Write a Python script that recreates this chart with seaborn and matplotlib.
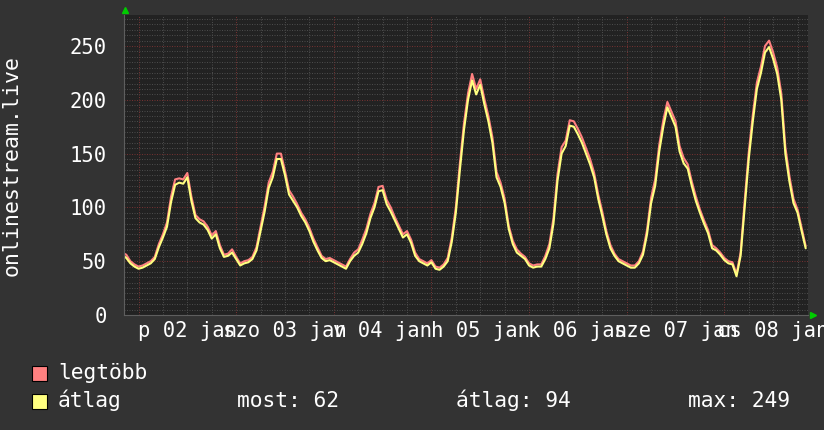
import matplotlib
matplotlib.use('Agg')
import matplotlib.pyplot as plt
import matplotlib.dates as mdates
from matplotlib.ticker import MultipleLocator, NullFormatter
from matplotlib.patches import Rectangle
import numpy as np
import pandas as pd
import seaborn as sns

# ---- data (hourly, starting 2015-01-01 20:00) ----
start_time = '2015-01-01 20:00'
avg_vals = [56, 53, 48, 45,
            43, 44, 46, 48, 52, 63, 72, 82, 105, 121, 123, 122,
            128, 106, 90, 86, 84, 79, 71, 75, 62, 54, 55, 58,
            52, 46, 48, 49, 52, 60, 78, 96, 118, 128, 145, 145,
            130, 112, 106, 100, 92, 86, 78, 68, 60, 53, 50, 51,
            49, 47, 45, 43, 50, 55, 58, 66, 76, 90, 100, 115,
            116, 103, 96, 88, 80, 72, 75, 67, 55, 50, 48, 46,
            49, 43, 42, 45, 50, 68, 95, 135, 172, 200, 218, 205,
            214, 196, 180, 160, 128, 119, 104, 80, 66, 58, 55, 52,
            46, 44, 45, 45, 52, 62, 85, 125, 150, 157, 176, 175,
            168, 160, 150, 140, 128, 108, 92, 75, 62, 55, 50, 48,
            46, 44, 44, 48, 56, 75, 104, 120, 152, 175, 193, 184,
            175, 152, 141, 136, 120, 106, 95, 85, 76, 62, 60, 56,
            51, 48, 47, 36, 55, 100, 145, 180, 210, 225, 244, 249,
            238, 224, 200, 150, 124, 104, 95, 78, 62]
max_vals = [58, 56, 50, 47,
            45, 46, 48, 50, 54, 66, 75, 86, 110, 126, 127, 126,
            132, 110, 93, 89, 87, 82, 74, 78, 65, 56, 57, 61,
            54, 48, 50, 51, 54, 63, 82, 101, 123, 133, 150, 150,
            134, 116, 110, 103, 95, 89, 81, 71, 63, 55, 52, 53,
            51, 49, 47, 45, 52, 58, 61, 70, 80, 94, 104, 119,
            120, 107, 100, 91, 83, 75, 78, 70, 58, 52, 50, 48,
            51, 45, 44, 47, 53, 72, 100, 141, 178, 206, 224, 210,
            219, 201, 185, 165, 133, 123, 108, 83, 69, 61, 57, 54,
            48, 46, 47, 47, 55, 66, 90, 131, 156, 162, 181, 180,
            173, 165, 155, 145, 132, 112, 96, 78, 65, 57, 52, 50,
            48, 46, 46, 50, 59, 79, 109, 126, 158, 181, 198, 189,
            180, 157, 146, 140, 124, 110, 98, 88, 79, 65, 62, 58,
            53, 50, 49, 38, 58, 106, 151, 186, 216, 231, 250, 255,
            244, 230, 206, 156, 129, 108, 98, 81, 64]
series_names = ['legtöbb', 'átlag']
series_colors = ['#FF8080', '#FFFF80']
day_labels = ['p 02 jan', 'szo 03 jan', 'v 04 jan', 'h 05 jan',
              'k 06 jan', 'sze 07 jan', 'cs 08 jan']
label_start = '2015-01-02 12:00'
y_label = 'onlinestream.live'
legend_stats = ['most: 62', 'átlag: 94', 'max: 249']

# ---- build frame ----
times = pd.date_range(start_time, periods=len(avg_vals), freq='h')
df = pd.concat([
    pd.DataFrame({'time': times, 'value': max_vals, 'series': series_names[0]}),
    pd.DataFrame({'time': times, 'value': avg_vals, 'series': series_names[1]}),
], ignore_index=True)
label_times = pd.date_range(label_start, periods=len(day_labels), freq='D')

sns.set_theme(style='dark')
plt.rcParams['font.family'] = ['DejaVu Sans Mono', 'DejaVu Sans']

W, H = 824, 430
fig = plt.figure(figsize=(W / 100, H / 100), dpi=100, facecolor='#333333')
ax = fig.add_axes([124 / W, 1 - 315 / H, 684 / W, 300 / H])
ax.set_facecolor('#222222')

sns.lineplot(data=df, x='time', y='value', hue='series', hue_order=series_names,
             palette=series_colors, estimator=None,
             linewidth=1.5, legend=False, ax=ax)

ax.set_xlim(pd.Timestamp('2015-01-01 20:26'), pd.Timestamp('2015-01-08 20:34'))
ax.set_ylim(0, 278.8)
ax.set_xlabel('')
ax.set_ylabel('')

ax.yaxis.set_major_locator(MultipleLocator(50))
ax.yaxis.set_minor_locator(MultipleLocator(5))
ax.xaxis.set_major_locator(mdates.DayLocator())
ax.xaxis.set_minor_locator(mdates.HourLocator(byhour=[6, 12, 18]))
ax.xaxis.set_major_formatter(NullFormatter())
ax.xaxis.set_minor_formatter(NullFormatter())

ax.grid(which='minor', color='#4a4a4a', linestyle=(0, (1, 1.5)), linewidth=0.72)
ax.grid(which='major', color='#723030', linestyle=(0, (1, 1.5)), linewidth=0.72)
ax.set_axisbelow(True)

ax.tick_params(axis='both', which='major', direction='out', length=2.5,
               width=0.72, color='#a04040', labelcolor='white',
               labelsize=14.8, pad=10)
ax.tick_params(axis='both', which='minor', direction='out', length=2,
               width=0.72, color='#5a5a5a')

for s in ['top', 'right']:
    ax.spines[s].set_visible(False)
for s in ['left', 'bottom']:
    ax.spines[s].set_color('#5e5e5e')
    ax.spines[s].set_linewidth(0.8)

# day labels centred at noon
for t, lab in zip(label_times, day_labels):
    ax.text(t, -0.0733, lab, transform=ax.get_xaxis_transform(), ha='center',
            va='baseline', color='white', fontsize=14.8, clip_on=False)

# green axis arrows
ax.plot([0.0015], [1.017], marker='^', markersize=5, color='#00cc00',
        transform=ax.transAxes, clip_on=False)
ax.plot([1.0073], [0.0], marker='>', markersize=5, color='#00cc00',
        transform=ax.transAxes, clip_on=False)

# y label
fig.text(12 / W, 1 - 165 / H, y_label, rotation=90, ha='center', va='center',
         color='white', fontsize=15.5)

# legend
for i, (name, col) in enumerate(zip(series_names, series_colors)):
    ytop = 366 + i * 28
    fig.add_artist(Rectangle((32 / W, 1 - (ytop + 15) / H), 15 / W, 15 / H,
                             transform=fig.transFigure, facecolor=col,
                             edgecolor='black', linewidth=0.8))
    fig.text(58 / W, 1 - (ytop + 13) / H, name, ha='left', va='baseline',
             color='white', fontsize=15.3)
for xpos, txt in zip([237, 456, 688], legend_stats):
    fig.text(xpos / W, 1 - 407 / H, txt, ha='left', va='baseline',
             color='white', fontsize=15.3)

fig.savefig('out.png', dpi=100, facecolor=fig.get_facecolor())
